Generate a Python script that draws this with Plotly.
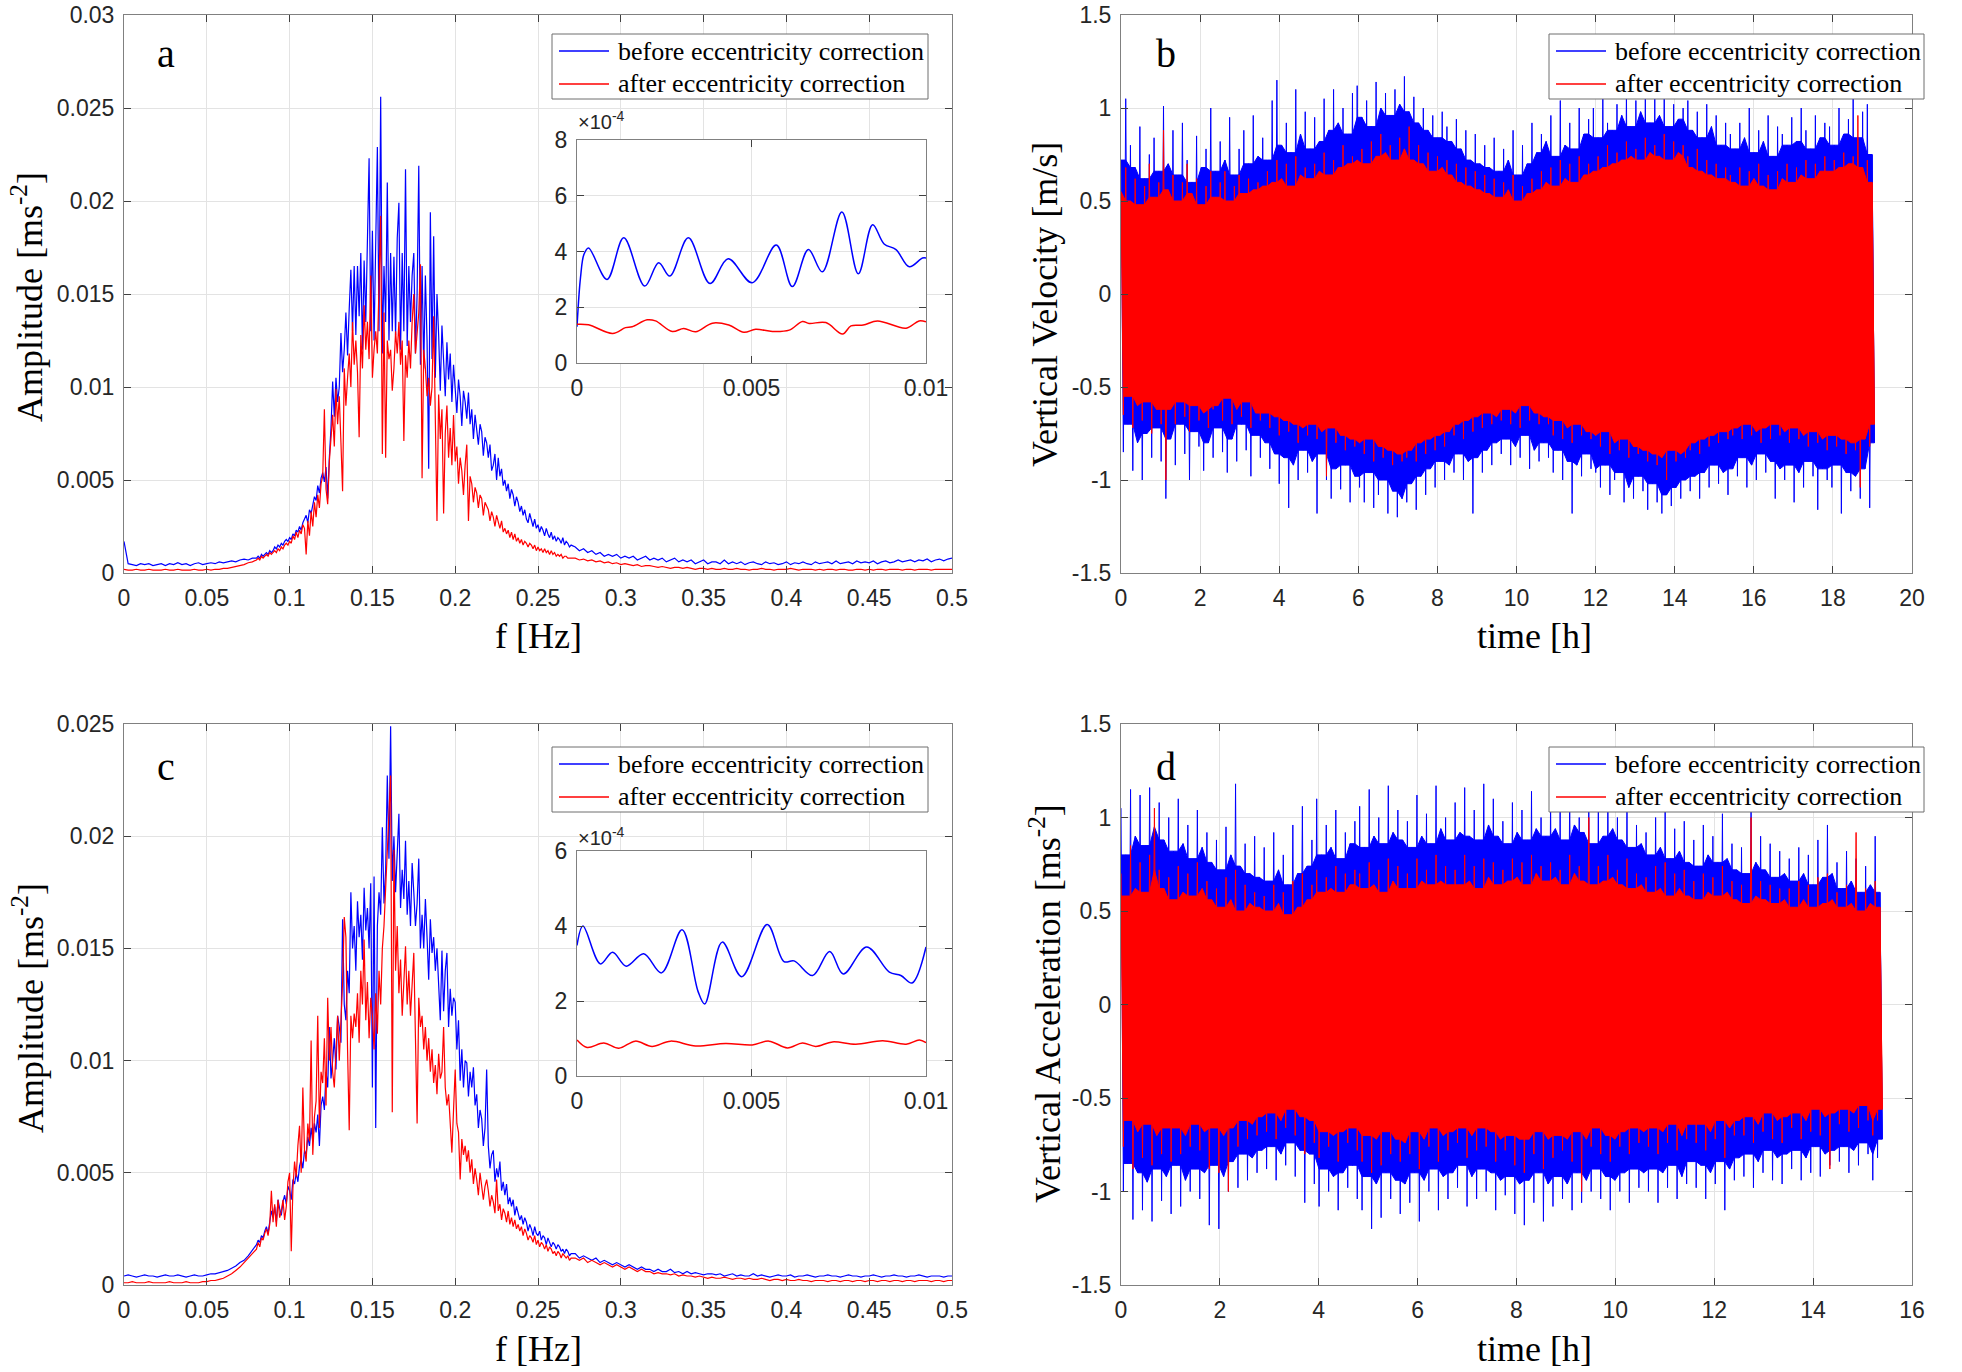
import numpy as np
import plotly.graph_objects as go

# ---------------- Spectra grids ----------------
SPEC_UNIT = 1e-4
LOW_START, LOW_STEP = 0.0, 0.0025      # 0 ... 0.0775
MID_START, MID_STEP = 0.080, 0.001     # 0.080 ... 0.270
TAIL_START, TAIL_STEP = 0.2725, 0.0025  # 0.2725 ... 0.5

# ---------------- Panel a : amplitude spectrum (units of 1e-4 m s^-2) ----------------
A_BLUE_LOW = [17, 5, 4.5, 4, 5, 4.5, 5, 4, 4.5, 5, 4, 5, 4.5, 5.5, 4.5, 5,
              4, 5, 5.5, 4.5, 5, 5.5, 5, 6, 5.5, 6, 6.5, 6, 7, 7.5, 7, 8]
A_BLUE_MID = [
    8, 9, 8, 10, 9, 10, 11, 10, 12, 11,
    12, 14, 13, 15, 14, 16, 15, 17, 18, 17,
    19, 18, 21, 20, 23, 22, 25, 23, 27, 29,
    31, 27, 34, 32, 37, 41, 39, 47, 43, 51,
    54, 49, 57, 40, 62, 78, 103, 84, 105, 92,
    100, 129, 108, 120, 140, 117, 142, 163, 130, 165,
    128, 165, 138, 172, 120, 168, 135, 175, 223, 130,
    184, 125, 170, 229, 130, 256, 118, 165, 135, 210,
    125, 172, 130, 170, 128, 180, 199, 120, 172, 130,
    217, 122, 165, 135, 160, 172, 118, 150, 219, 112,
    165, 110, 160, 125, 56, 194, 115, 181, 105, 150,
    128, 98, 133, 112, 95, 124, 104, 118, 92, 112,
    100, 86, 104, 95, 79, 98, 92, 83, 97, 80,
    88, 72, 85, 78, 69, 80, 76, 63, 73, 70,
    62, 69, 55, 58, 64, 50, 62, 52, 56, 47,
    50, 44, 48, 40, 45, 42, 36, 41, 38, 33,
    36, 31, 34, 29, 27, 32, 28, 25, 29, 24,
    26, 22, 25, 23, 20, 24, 21, 19, 22, 18,
    20, 17, 19, 18, 16, 19, 15, 17, 16, 14,
    15]
A_BLUE_TAIL = [
    14, 12, 13, 11, 12, 10, 11, 9, 10, 9,
    10, 8, 9, 8, 9, 7, 8, 9, 7, 8,
    7, 8, 6, 7, 8, 6, 7, 6, 7, 5,
    6, 7, 5, 6, 6, 5, 7, 5, 6, 5,
    6, 4.5, 5.5, 6, 5, 4.5, 6, 5, 5.5, 4.5,
    5, 6, 4.5, 5.5, 5, 6, 5, 4.5, 6, 5,
    5.5, 6, 5, 6.5, 5, 5.5, 6, 5, 6.5, 5.5,
    6, 5.5, 6.5, 5, 6, 6.5, 5.5, 6, 7, 6,
    6.5, 7, 6, 7, 6.5, 7.5, 6, 7, 7.5, 6.5,
    7.5, 8]

A_RED_LOW = [2, 1.5, 1.5, 2, 1.5, 1.5, 2, 1.5, 1.5, 1.5, 2, 1.5, 1.5, 2, 1.5, 1.5,
             1.5, 2, 1.5, 1.5, 2, 1.5, 2, 2, 2.5, 2.5, 3, 3.5, 4, 4.5, 5.5, 6]
A_RED_MID = [
    7, 8, 7, 9, 8, 9, 10, 9, 11, 10,
    11, 12, 11, 13, 12, 14, 13, 15, 16, 15,
    17, 16, 20, 18, 22, 19, 23, 21, 26, 24,
    10, 28, 20, 33, 25, 38, 30, 42, 35, 48,
    52, 88, 45, 37, 60, 72, 85, 68, 99, 80,
    95, 70, 44, 110, 90, 105, 118, 100, 135, 112,
    125, 108, 73, 128, 110, 144, 120, 135, 115, 160,
    105, 120, 130, 118, 156, 192, 64, 140, 62, 125,
    115, 120, 98, 110, 130, 118, 135, 112, 125, 71,
    117, 105, 125, 110, 135, 150, 118, 130, 140, 166,
    51, 120, 110, 95, 105, 90, 100, 138, 85, 28,
    96, 72, 88, 32, 75, 90, 62, 78, 58, 85,
    60, 68, 48, 62, 55, 42, 58, 69, 28, 52,
    48, 38, 46, 43, 35, 42, 40, 31, 38, 36,
    34, 28, 33, 30, 25, 31, 27, 24, 28, 22,
    24, 21, 23, 19, 22, 18, 21, 17, 19, 16,
    18, 15, 17, 16, 14, 16, 15, 13, 15, 12,
    14, 12, 13, 11, 13, 11, 12, 10, 12, 10,
    11, 9, 10, 9, 10, 8, 9, 9, 8, 8,
    8]
A_RED_TAIL = [
    8, 7, 7.5, 6.5, 7, 6, 6.5, 5.5, 6, 5,
    5.5, 4.5, 5, 4.5, 4, 4.5, 3.5, 4, 4, 3.5,
    3, 3.5, 3, 2.5, 3, 3, 2.5, 3, 2.5, 2,
    2.5, 2.5, 2, 2.5, 2, 2, 2.5, 2, 2, 2.5,
    2, 2, 1.5, 2, 2, 2.5, 2, 2, 1.5, 2,
    2, 2, 2.5, 2, 1.5, 2, 2, 2, 1.5, 2,
    1.5, 2, 2, 1.5, 2, 2, 1.5, 1.5, 2, 2,
    1.5, 2, 1.5, 2, 2, 1.5, 2, 2, 2, 1.5,
    2, 2, 1.5, 2, 2, 2, 1.5, 2, 2, 2,
    2, 2]

# ---------------- Panel c : amplitude spectrum (units of 1e-4 m s^-2) ----------------
C_BLUE_LOW = [4, 4.5, 4, 3.5, 4, 4.5, 4, 4, 3.5, 4, 4.5, 4, 4, 4.5, 4, 3.5,
              4, 4.5, 4, 4, 4.5, 5, 5, 5.5, 6, 6.5, 7.5, 8.5, 10, 11, 13, 15.5]
C_BLUE_MID = [
    18, 20, 19, 22, 21, 24, 26, 23, 28, 33,
    30, 35, 28, 38, 34, 31, 37, 40, 36, 44,
    42, 38, 47, 45, 50, 46, 53, 56, 52, 60,
    58, 66, 62, 70, 64, 72, 68, 76, 62, 80,
    84, 78, 95, 88, 115, 92, 100, 110, 96, 120,
    115, 108, 163, 125, 118, 140, 130, 175, 150, 160,
    140, 171, 155, 165, 145, 177, 158, 168, 150, 179,
    88, 182, 70, 160, 175, 165, 204, 170, 185, 227,
    190, 249, 180, 200, 175, 190, 210, 168, 185, 172,
    198, 165, 180, 160, 188, 175, 160, 170, 190, 150,
    165, 150, 172, 155, 136, 163, 148, 155, 140, 150,
    135, 118, 149, 122, 140, 148, 115, 132, 120, 128,
    126, 105, 118, 91, 105, 88, 100, 99, 84, 95,
    88, 97, 80, 85, 70, 78, 74, 62, 70, 96,
    62, 52, 58, 60, 46, 52, 48, 55, 42, 46,
    40, 45, 36, 39, 35, 38, 31, 35, 32, 29,
    31, 27, 30, 28, 24, 27, 25, 22, 26, 23,
    22, 24, 20, 22, 21, 18, 21, 19, 17, 19,
    18, 16, 18, 17, 15, 16, 14, 16, 15, 13,
    14]
C_BLUE_TAIL = [
    14, 12, 13, 12, 11, 12, 10, 11, 10, 9,
    10, 9, 8, 9, 8, 7, 8, 7, 7, 6,
    7, 6, 6, 7, 5.5, 6, 5, 6, 5, 5.5,
    5, 4.5, 5, 5, 4.5, 5, 4, 4.5, 5, 4,
    4.5, 4, 4, 5, 4, 4.5, 4, 3.5, 4, 4.5,
    4, 4, 4.5, 3.5, 4, 4, 4.5, 4, 3.5, 4,
    4, 4.5, 4, 4, 3.5, 4, 4.5, 4, 4, 3.5,
    4, 4, 4.5, 4, 3.5, 4, 4, 4.5, 4, 4,
    3.5, 4, 4, 4.5, 4, 3.5, 4, 4, 4, 3.5,
    4, 4]

C_RED_LOW = [1, 1, 1.5, 1, 1, 1, 1.5, 1, 1, 1, 1, 1.5, 1, 1, 1, 1.5,
             1, 1, 1, 1.5, 1.5, 2, 2, 2.5, 3, 4, 5, 6.5, 8, 10, 12, 14]
C_RED_MID = [
    16, 19, 17, 21, 20, 23, 25, 22, 27, 42,
    28, 36, 26, 38, 30, 33, 38, 29, 35, 46,
    50, 15, 43, 55, 48, 62, 71, 50, 88, 60,
    55, 72, 64, 109, 58, 75, 82, 120, 70, 95,
    90, 110, 80, 128, 100, 115, 95, 88, 105, 120,
    100, 118, 135, 164, 155, 105, 69, 120, 110, 121,
    115, 130, 108, 140, 125, 154, 118, 135, 110, 128,
    120, 105, 130, 112, 140, 125, 150, 160, 175, 190,
    210, 227, 77, 194, 140, 160, 130, 145, 120, 135,
    151, 125, 140, 120, 135, 148, 110, 72, 128, 115,
    120, 105, 115, 100, 110, 95, 105, 90, 98, 85,
    103, 92, 95, 115, 88, 80, 85, 70, 59, 78,
    96, 72, 68, 47, 65, 58, 62, 55, 60, 50,
    56, 45, 52, 47, 40, 50, 44, 38, 44, 47,
    42, 35, 40, 37, 32, 47, 33, 36, 29, 34,
    32, 28, 33, 27, 30, 26, 29, 25, 27, 24,
    26, 22, 25, 23, 20, 22, 21, 19, 22, 18,
    20, 17, 19, 18, 16, 18, 15, 17, 16, 14,
    15, 13, 15, 14, 12, 14, 13, 12, 13, 11,
    12]
C_RED_TAIL = [
    12, 11, 12, 10, 11, 10, 9, 10, 9, 8,
    9, 8, 7, 8, 7, 6, 7, 6, 6, 5,
    5.5, 5, 5, 4.5, 5, 4, 4.5, 4, 4, 3.5,
    4, 3.5, 3, 3.5, 3, 3, 3.5, 3, 2.5, 3,
    3, 2.5, 3, 2.5, 2.5, 3, 2.5, 2, 2.5, 2.5,
    2, 2.5, 2, 2, 2.5, 2, 2, 1.5, 2, 2,
    2, 1.5, 2, 2, 1.5, 2, 2, 1.5, 2, 2,
    1.5, 2, 2, 1.5, 2, 2, 1.5, 2, 2, 1.5,
    2, 2, 1.5, 2, 2, 2, 1.5, 2, 2, 1.5,
    2, 2]

# ---------------- Insets (f in 1e-3 Hz, amplitude in 1e-4) ----------------
IA_BLUE_F = [0, 0.1, 0.2, 0.33, 0.86, 1.34, 1.94, 2.34, 2.66, 3.19, 3.81, 4.33, 5.02,
             5.71, 6.17, 6.63, 7.03, 7.59, 8.06, 8.47, 8.8, 9.14, 9.52, 9.9, 10]
IA_BLUE_V = [1.3, 3.06, 3.9, 4.13, 3.0, 4.49, 2.76, 3.6, 3.12, 4.49, 2.85, 3.74, 2.88,
             4.23, 2.74, 4.07, 3.27, 5.42, 3.2, 4.96, 4.27, 4.07, 3.45, 3.77, 3.77]
IA_RED_F = [0, 0.33, 1.02, 1.39, 1.58, 2.01, 2.25, 2.73, 3.06, 3.40, 3.88, 4.35, 4.78,
            5.12, 5.60, 6.08, 6.46, 6.65, 7.13, 7.61, 7.85, 8.2, 8.61, 9.43, 9.8, 10]
IA_RED_V = [1.39, 1.37, 1.06, 1.27, 1.3, 1.55, 1.51, 1.13, 1.24, 1.12, 1.43, 1.36, 1.1,
            1.21, 1.13, 1.18, 1.49, 1.42, 1.45, 1.04, 1.33, 1.36, 1.51, 1.25, 1.51, 1.48]

IC_BLUE_F = [0, 0.17, 0.67, 1.02, 1.41, 1.91, 2.42, 3.01, 3.47, 3.66, 4.16, 4.72, 5.45,
             5.93, 6.22, 6.75, 7.24, 7.63, 8.3, 8.95, 9.28, 9.6, 10]
IC_BLUE_V = [3.48, 4.0, 2.99, 3.3, 2.93, 3.26, 2.75, 3.9, 2.25, 1.92, 3.57, 2.65, 4.04,
             3.05, 3.07, 2.68, 3.32, 2.72, 3.44, 2.77, 2.68, 2.48, 3.44]
IC_RED_F = [0, 0.29, 0.77, 1.2, 1.67, 2.15, 2.68, 3.4, 4.26, 5.02, 5.5, 6.03, 6.46, 6.84,
            7.32, 7.99, 8.76, 9.43, 9.81, 10]
IC_RED_V = [0.96, 0.76, 0.88, 0.74, 0.93, 0.79, 0.93, 0.8, 0.87, 0.83, 0.93, 0.75, 0.88,
            0.79, 0.91, 0.85, 0.94, 0.85, 0.96, 0.89]

# ---------------- Panel b : vertical velocity, swing extremes (1e-2 m/s) ----------------
B_T_END = 19.05
B_BLUE_UP = [
    72, 105, 80, 68, 90, 62, 75, 84, 66, 101,
    70, 88, 64, 92, 72, 60, 85, 68, 78, 100,
    66, 82, 72, 95, 64, 78, 88, 70, 96, 74,
    84, 72, 104, 115, 80, 92, 76, 110, 86, 98,
    78, 95, 82, 105, 88, 110, 92, 100, 86, 108,
    112, 95, 104, 90, 114, 100, 108, 96, 110, 102,
    117, 98, 106, 92, 100, 88, 96, 84, 98, 90,
    82, 94, 78, 88, 72, 86, 70, 80, 68, 84,
    66, 78, 72, 88, 64, 80, 70, 92, 76, 86,
    82, 96, 74, 104, 80, 92, 78, 100, 86, 94,
    100, 84, 105, 92, 88, 102, 96, 110, 90, 104,
    98, 108, 92, 105, 96, 112, 90, 102, 94, 100,
    104, 88, 98, 84, 102, 90, 96, 80, 92, 86,
    78, 92, 84, 100, 76, 88, 82, 96, 74, 90,
    86, 80, 95, 82, 100, 88, 78, 96, 84, 92,
    90, 80, 100, 86, 94, 105, 84, 98, 102, 75]
B_BLUE_LO = [
    -85, -70, -95, -80, -100, -75, -88, -72, -90, -110,
    -78, -92, -70, -86, -100, -74, -82, -95, -80, -88,
    -72, -85, -96, -78, -90, -70, -84, -98, -76, -88,
    -80, -94, -86, -102, -88, -115, -92, -100, -84, -96,
    -90, -118, -86, -100, -110, -94, -105, -92, -112, -98,
    -104, -112, -96, -115, -108, -100, -118, -106, -120, -110,
    -112, -102, -116, -98, -108, -94, -104, -90, -100, -92,
    -96, -86, -100, -90, -118, -88, -96, -84, -92, -80,
    -86, -78, -92, -82, -88, -76, -94, -84, -90, -80,
    -88, -96, -84, -100, -90, -118, -92, -98, -86, -94,
    -96, -104, -92, -108, -100, -96, -112, -104, -110, -98,
    -106, -116, -102, -112, -118, -108, -114, -104, -110, -100,
    -106, -98, -110, -96, -104, -92, -102, -96, -108, -94,
    -98, -88, -104, -92, -100, -86, -96, -90, -110, -94,
    -100, -92, -112, -96, -104, -90, -98, -116, -94, -100,
    -104, -92, -118, -96, -106, -98, -110, -94, -115, -80]
B_RED_UP = [
    55, 68, 50, 62, 48, 58, 70, 52, 60, 88,
    56, 64, 50, 60, 70, 54, 62, 48, 58, 66,
    52, 60, 66, 50, 58, 64, 54, 62, 56, 60,
    58, 66, 60, 72, 62, 70, 58, 74, 64, 68,
    62, 70, 66, 76, 64, 72, 68, 80, 70, 74,
    72, 78, 70, 82, 74, 86, 76, 80, 72, 84,
    78, 90, 72, 80, 70, 76, 66, 74, 68, 72,
    64, 70, 60, 68, 58, 66, 56, 64, 54, 62,
    52, 60, 56, 64, 50, 58, 54, 62, 56, 66,
    60, 68, 58, 72, 62, 70, 60, 74, 64, 70,
    66, 74, 68, 80, 70, 76, 72, 82, 74, 78,
    72, 84, 76, 80, 74, 86, 72, 82, 76, 80,
    74, 68, 78, 66, 72, 64, 70, 62, 68, 64,
    60, 68, 58, 66, 62, 70, 58, 64, 56, 66,
    62, 70, 60, 68, 64, 72, 62, 70, 66, 74,
    66, 72, 68, 76, 70, 74, 96, 68, 72, 60]
B_RED_LO = [
    -65, -55, -72, -60, -68, -58, -75, -62, -70, -100,
    -62, -70, -58, -66, -74, -60, -68, -64, -72, -62,
    -60, -68, -56, -70, -62, -66, -58, -72, -64, -68,
    -64, -72, -66, -76, -68, -74, -70, -80, -72, -76,
    -70, -78, -74, -98, -72, -80, -76, -84, -78, -82,
    -80, -86, -78, -90, -82, -88, -84, -92, -86, -90,
    -88, -84, -90, -80, -86, -78, -84, -76, -82, -74,
    -76, -70, -78, -68, -74, -66, -72, -64, -70, -66,
    -68, -62, -70, -64, -72, -60, -68, -64, -70, -66,
    -70, -76, -68, -78, -72, -80, -70, -76, -74, -78,
    -76, -82, -74, -86, -80, -84, -78, -88, -82, -86,
    -84, -90, -86, -92, -88, -100, -84, -90, -86, -88,
    -84, -80, -86, -78, -82, -76, -80, -74, -78, -76,
    -72, -78, -70, -76, -74, -80, -72, -78, -70, -76,
    -74, -80, -72, -78, -76, -82, -74, -80, -78, -84,
    -76, -82, -78, -86, -80, -84, -104, -78, -82, -70]

# ---------------- Panel d : vertical acceleration, swing extremes (1e-2 m/s^2) ----------------
D_T_END = 15.4
D_BLUE_UP = [
    105, 80, 115, 90, 112, 85, 116, 95, 108, 88,
    100, 82, 110, 86, 96, 78, 104, 84, 92, 76,
    88, 72, 95, 80, 118, 74, 86, 70, 90, 68,
    84, 66, 92, 72, 80, 64, 96, 70, 106, 74,
    88, 110, 80, 96, 84, 104, 78, 92, 86, 98,
    106, 84, 115, 90, 100, 86, 117, 92, 104, 88,
    98, 84, 112, 90, 102, 86, 117, 94, 100, 88,
    108, 92, 116, 90, 104, 88, 118, 96, 110, 90,
    98, 86, 108, 92, 104, 88, 114, 94, 100, 90,
    110, 94, 104, 88, 115, 96, 100, 92, 108, 86,
    104, 90, 112, 94, 100, 88, 108, 84, 96, 86,
    92, 80, 100, 84, 106, 78, 94, 82, 98, 76,
    88, 74, 96, 80, 90, 76, 102, 78, 86, 72,
    84, 70, 110, 76, 90, 72, 86, 68, 82, 70,
    78, 66, 84, 70, 80, 64, 88, 68, 96, 70,
    76, 62, 82, 66, 78, 60, 74, 64, 90, 60]
D_BLUE_LO = [
    -100, -85, -115, -90, -110, -95, -116, -88, -105, -92,
    -112, -86, -108, -94, -100, -88, -104, -90, -118, -86,
    -120, -92, -100, -84, -98, -80, -94, -82, -90, -78,
    -88, -76, -94, -80, -86, -74, -92, -78, -106, -80,
    -96, -108, -88, -100, -92, -110, -90, -98, -86, -104,
    -110, -92, -120, -96, -114, -90, -104, -94, -112, -96,
    -106, -90, -116, -94, -100, -88, -110, -92, -104, -90,
    -98, -86, -108, -92, -104, -88, -100, -90, -110, -94,
    -102, -92, -112, -96, -118, -94, -106, -90, -116, -96,
    -108, -92, -104, -96, -110, -90, -106, -94, -100, -88,
    -104, -92, -110, -94, -100, -90, -106, -88, -98, -90,
    -100, -88, -106, -90, -98, -86, -104, -92, -96, -84,
    -98, -86, -104, -90, -96, -84, -110, -88, -94, -82,
    -92, -80, -98, -84, -90, -78, -94, -82, -96, -80,
    -88, -78, -94, -82, -90, -76, -92, -80, -86, -78,
    -84, -76, -90, -78, -86, -74, -80, -94, -82, -72]
D_RED_UP = [
    70, 58, 85, 62, 76, 60, 80, 105, 72, 62,
    68, 56, 74, 60, 70, 58, 76, 62, 66, 56,
    62, 52, 68, 56, 72, 50, 64, 54, 60, 52,
    58, 50, 64, 54, 60, 48, 66, 52, 70, 56,
    64, 72, 60, 68, 62, 74, 60, 70, 64, 72,
    70, 62, 76, 64, 72, 60, 78, 66, 74, 62,
    70, 62, 78, 66, 72, 64, 80, 66, 74, 64,
    72, 64, 80, 66, 74, 62, 78, 68, 76, 64,
    72, 66, 78, 68, 76, 64, 80, 70, 74, 66,
    76, 68, 72, 64, 80, 70, 74, 66, 100, 64,
    74, 66, 80, 68, 72, 64, 78, 62, 70, 64,
    68, 60, 74, 62, 76, 58, 70, 62, 72, 58,
    66, 56, 70, 60, 68, 58, 74, 60, 66, 56,
    64, 54, 100, 58, 66, 56, 64, 54, 62, 56,
    62, 52, 66, 56, 64, 52, 68, 54, 70, 56,
    60, 52, 64, 54, 92, 50, 62, 54, 66, 52]
D_RED_LO = [
    -76, -62, -88, -68, -82, -64, -86, -70, -80, -66,
    -84, -66, -80, -70, -76, -64, -78, -68, -88, -66,
    -90, -70, -100, -66, -76, -62, -72, -64, -70, -60,
    -68, -58, -72, -62, -66, -56, -70, -60, -80, -62,
    -74, -82, -68, -76, -70, -84, -68, -74, -66, -78,
    -84, -70, -90, -72, -86, -68, -80, -72, -84, -74,
    -80, -68, -88, -72, -76, -66, -84, -70, -78, -68,
    -74, -66, -82, -70, -78, -66, -76, -68, -84, -72,
    -78, -70, -86, -72, -90, -72, -80, -68, -88, -72,
    -82, -70, -78, -72, -84, -68, -100, -72, -76, -66,
    -80, -70, -84, -72, -76, -68, -80, -66, -74, -68,
    -76, -66, -80, -68, -74, -64, -78, -70, -72, -64,
    -74, -64, -78, -68, -72, -62, -82, -66, -70, -62,
    -70, -60, -74, -64, -68, -58, -72, -62, -74, -60,
    -66, -58, -72, -62, -68, -56, -70, -60, -88, -58,
    -64, -56, -68, -58, -66, -54, -62, -70, -62, -56]

# ---------------- Tick definitions ----------------
F_TICKS = [0, 0.05, 0.1, 0.15, 0.2, 0.25, 0.3, 0.35, 0.4, 0.45, 0.5]
F_TICKTEXT = ["0", "0.05", "0.1", "0.15", "0.2", "0.25", "0.3", "0.35", "0.4", "0.45", "0.5"]
A_YTICKS = [0, 0.005, 0.01, 0.015, 0.02, 0.025, 0.03]
A_YTICKTEXT = ["0", "0.005", "0.01", "0.015", "0.02", "0.025", "0.03"]
C_YTICKS = [0, 0.005, 0.01, 0.015, 0.02, 0.025]
C_YTICKTEXT = ["0", "0.005", "0.01", "0.015", "0.02", "0.025"]
V_TICKS = [-1.5, -1, -0.5, 0, 0.5, 1, 1.5]
V_TICKTEXT = ["-1.5", "-1", "-0.5", "0", "0.5", "1", "1.5"]
B_XTICKS = list(range(0, 21, 2))
D_XTICKS = list(range(0, 17, 2))
INSET_XTICKS = [0, 0.005, 0.01]
INSET_XTICKTEXT = ["0", "0.005", "0.01"]
IA_YTICKS = [0, 2, 4, 6, 8]
IC_YTICKS = [0, 2, 4, 6]

NAME_BEFORE = "before eccentricity correction"
NAME_AFTER = "after eccentricity correction"
BLUE = "#0000FF"
RED = "#FF0000"


def spectrum(low, mid, tail):
    f = np.concatenate([LOW_START + LOW_STEP * np.arange(len(low)),
                        MID_START + MID_STEP * np.arange(len(mid)),
                        TAIL_START + TAIL_STEP * np.arange(len(tail))])
    v = np.concatenate([low, mid, tail]) * SPEC_UNIT
    return f, v


def zigzag(up, lo, t_end):
    n = min(len(up), len(lo))
    vals = []
    for u, l in zip(up[:n], lo[:n]):
        vals.extend([u, l])
    v = np.array(vals, dtype=float) / 100.0
    t = np.linspace(0, t_end, len(v))
    return t, v


def dense_band(up, lo, t_end):
    """Outline of the densely filled band: local (3-swing) inner extreme of the swings."""
    t, v = zigzag(up, lo, t_end)
    t_up, u = t[0::2], v[0::2]
    t_lo, l = t[1::2], v[1::2]
    up_pad = np.concatenate([[u[0]], u, [u[-1]]])
    lo_pad = np.concatenate([[l[0]], l, [l[-1]]])
    u_in = np.minimum.reduce([up_pad[:-2], up_pad[1:-1], up_pad[2:]])
    l_in = np.maximum.reduce([lo_pad[:-2], lo_pad[1:-1], lo_pad[2:]])
    return (np.concatenate([t_up, t_lo[::-1]]),
            np.concatenate([u_in, l_in[::-1]]))


fig = go.Figure()

# Panel a
for (low, mid, tail, col, name) in [(A_BLUE_LOW, A_BLUE_MID, A_BLUE_TAIL, BLUE, NAME_BEFORE),
                                     (A_RED_LOW, A_RED_MID, A_RED_TAIL, RED, NAME_AFTER)]:
    f, v = spectrum(low, mid, tail)
    fig.add_trace(go.Scatter(x=f, y=v, mode="lines", line=dict(color=col, width=1.2),
                             name=name, showlegend=False, xaxis="x", yaxis="y"))


def add_time_panel(series, xa, ya, t_end):
    for (up, lo, col, name) in series:
        bx, by = dense_band(up, lo, t_end)
        fig.add_trace(go.Scatter(x=bx, y=by, mode="lines", fill="toself", fillcolor=col,
                                 line=dict(color=col, width=1), showlegend=False,
                                 hoverinfo="skip", xaxis=xa, yaxis=ya))
        t, v = zigzag(up, lo, t_end)
        fig.add_trace(go.Scatter(x=t, y=v, mode="lines", line=dict(color=col, width=1),
                                 name=name, showlegend=False, xaxis=xa, yaxis=ya))


# Panel b
add_time_panel([(B_BLUE_UP, B_BLUE_LO, BLUE, NAME_BEFORE),
                (B_RED_UP, B_RED_LO, RED, NAME_AFTER)], "x2", "y2", B_T_END)
# Panel c
for (low, mid, tail, col, name) in [(C_BLUE_LOW, C_BLUE_MID, C_BLUE_TAIL, BLUE, NAME_BEFORE),
                                     (C_RED_LOW, C_RED_MID, C_RED_TAIL, RED, NAME_AFTER)]:
    f, v = spectrum(low, mid, tail)
    fig.add_trace(go.Scatter(x=f, y=v, mode="lines", line=dict(color=col, width=1.2),
                             name=name, showlegend=False, xaxis="x3", yaxis="y3"))
# Panel d
add_time_panel([(D_BLUE_UP, D_BLUE_LO, BLUE, NAME_BEFORE),
                (D_RED_UP, D_RED_LO, RED, NAME_AFTER)], "x4", "y4", D_T_END)
# Insets
for (fx, vv, col) in [(IA_BLUE_F, IA_BLUE_V, BLUE), (IA_RED_F, IA_RED_V, RED)]:
    fig.add_trace(go.Scatter(x=np.array(fx) * 1e-3, y=vv, mode="lines",
                             line=dict(color=col, width=1.5, shape="spline", smoothing=1.0),
                             showlegend=False, xaxis="x5", yaxis="y5"))
for (fx, vv, col) in [(IC_BLUE_F, IC_BLUE_V, BLUE), (IC_RED_F, IC_RED_V, RED)]:
    fig.add_trace(go.Scatter(x=np.array(fx) * 1e-3, y=vv, mode="lines",
                             line=dict(color=col, width=1.5, shape="spline", smoothing=1.0),
                             showlegend=False, xaxis="x6", yaxis="y6"))

W, H = 1962, 1372
TICKFONT = dict(family="Liberation Sans, Arial, sans-serif", size=23, color="#262626")
SERIF = "Liberation Serif, Times New Roman, serif"
TOP_ROW = (15, 573)      # pixel top / bottom of the upper panels
BOTTOM_ROW = (724, 1285)


def px_x(a, b):
    return [a / W, b / W]


def px_y(top, bottom):
    return [1 - bottom / H, 1 - top / H]


def ax(domain, rng, tickvals, ticktext=None):
    d = dict(domain=domain, range=rng, tickmode="array", tickvals=tickvals,
             showline=True, linecolor="#808080", linewidth=1, mirror="ticks",
             ticks="inside", ticklen=7, tickcolor="#404040", tickwidth=1,
             showgrid=True, gridcolor="#e3e3e3", gridwidth=1, zeroline=False,
             tickfont=TICKFONT, fixedrange=True, ticklabelstandoff=4, automargin=False,
             ticklabeloverflow="allow")
    if ticktext is not None:
        d["ticktext"] = ticktext
    return d


layout = dict(
    width=W, height=H, margin=dict(l=0, r=0, t=0, b=0, pad=0, autoexpand=False),
    paper_bgcolor="white", plot_bgcolor="white", showlegend=False,
    xaxis=ax(px_x(124, 952), [0, 0.5], F_TICKS, F_TICKTEXT),
    yaxis=ax(px_y(*TOP_ROW), [0, 0.03], A_YTICKS, A_YTICKTEXT),
    xaxis2=ax(px_x(1121, 1912), [0, 20], B_XTICKS),
    yaxis2=ax(px_y(*TOP_ROW), [-1.5, 1.5], V_TICKS, V_TICKTEXT),
    xaxis3=ax(px_x(124, 952), [0, 0.5], F_TICKS, F_TICKTEXT),
    yaxis3=ax(px_y(*BOTTOM_ROW), [0, 0.025], C_YTICKS, C_YTICKTEXT),
    xaxis4=ax(px_x(1121, 1912), [0, 16], D_XTICKS),
    yaxis4=ax(px_y(*BOTTOM_ROW), [-1.5, 1.5], V_TICKS, V_TICKTEXT),
    xaxis5=ax(px_x(577, 926), [0, 0.01], INSET_XTICKS, INSET_XTICKTEXT),
    yaxis5=ax(px_y(140, 363), [0, 8], IA_YTICKS),
    xaxis6=ax(px_x(577, 926), [0, 0.01], INSET_XTICKS, INSET_XTICKTEXT),
    yaxis6=ax(px_y(851, 1076), [0, 6], IC_YTICKS),
)
for i in range(2, 7):
    layout[f"xaxis{i}"]["anchor"] = f"y{i}"
    layout[f"yaxis{i}"]["anchor"] = f"x{i}"
layout["xaxis"]["anchor"] = "y"
layout["yaxis"]["anchor"] = "x"

ann = []
shapes = []


def add_text(text, xpx, ypx, size, family=SERIF, angle=0, xanchor="center", color="black"):
    ann.append(dict(text=text, x=xpx / W, y=1 - ypx / H, xref="paper", yref="paper",
                    showarrow=False, textangle=angle, xanchor=xanchor, yanchor="middle",
                    font=dict(family=family, size=size, color=color)))


def add_legend_box(left, top, right, bottom):
    """MATLAB-style legend: white box, short line samples and serif labels."""
    shapes.append(dict(type="rect", xref="paper", yref="paper", layer="above",
                       x0=left / W, x1=right / W, y0=1 - bottom / H, y1=1 - top / H,
                       fillcolor="white", line=dict(color="#6e6e6e", width=1)))
    rows = [(NAME_BEFORE, BLUE, top + 17), (NAME_AFTER, RED, top + 50)]
    for name, col, yc in rows:
        shapes.append(dict(type="line", xref="paper", yref="paper", layer="above",
                           x0=(left + 7) / W, x1=(left + 57) / W,
                           y0=1 - yc / H, y1=1 - yc / H, line=dict(color=col, width=1.5)))
        add_text(name, left + 64, yc, 26, xanchor="left")


add_legend_box(552, 34, 928, 99)
add_legend_box(1549, 34, 1924, 99)
add_legend_box(552, 747, 928, 812)
add_legend_box(1549, 747, 1924, 812)

add_text("a", 166, 54, 40)
add_text("b", 1166, 54, 40)
add_text("c", 166, 766, 40)
add_text("d", 1166, 766, 40)
add_text("Amplitude [ms<sup>-2</sup>]", 28, 297, 36, angle=-90)
add_text("Vertical Velocity [m/s]", 1045, 305, 36, angle=-90)
add_text("Amplitude [ms<sup>-2</sup>]", 28, 1008, 36, angle=-90)
add_text("Vertical Acceleration [ms<sup>-2</sup>]", 1045, 1004, 36, angle=-90)
add_text("f [Hz]", 538, 636, 36)
add_text("time [h]", 1534, 636, 36)
add_text("f [Hz]", 538, 1349, 36)
add_text("time [h]", 1534, 1349, 36)
add_text("×10<sup>-4</sup>", 576, 121, 20, family="Liberation Sans, Arial, sans-serif",
         xanchor="left", color="#262626")
add_text("×10<sup>-4</sup>", 576, 836, 20, family="Liberation Sans, Arial, sans-serif",
         xanchor="left", color="#262626")
layout["annotations"] = ann
layout["shapes"] = shapes

fig.update_layout(**layout)
fig.write_html("out.html", config={"displayModeBar": False},
               post_script="document.body.style.margin='0px';document.body.style.overflow='hidden';")
